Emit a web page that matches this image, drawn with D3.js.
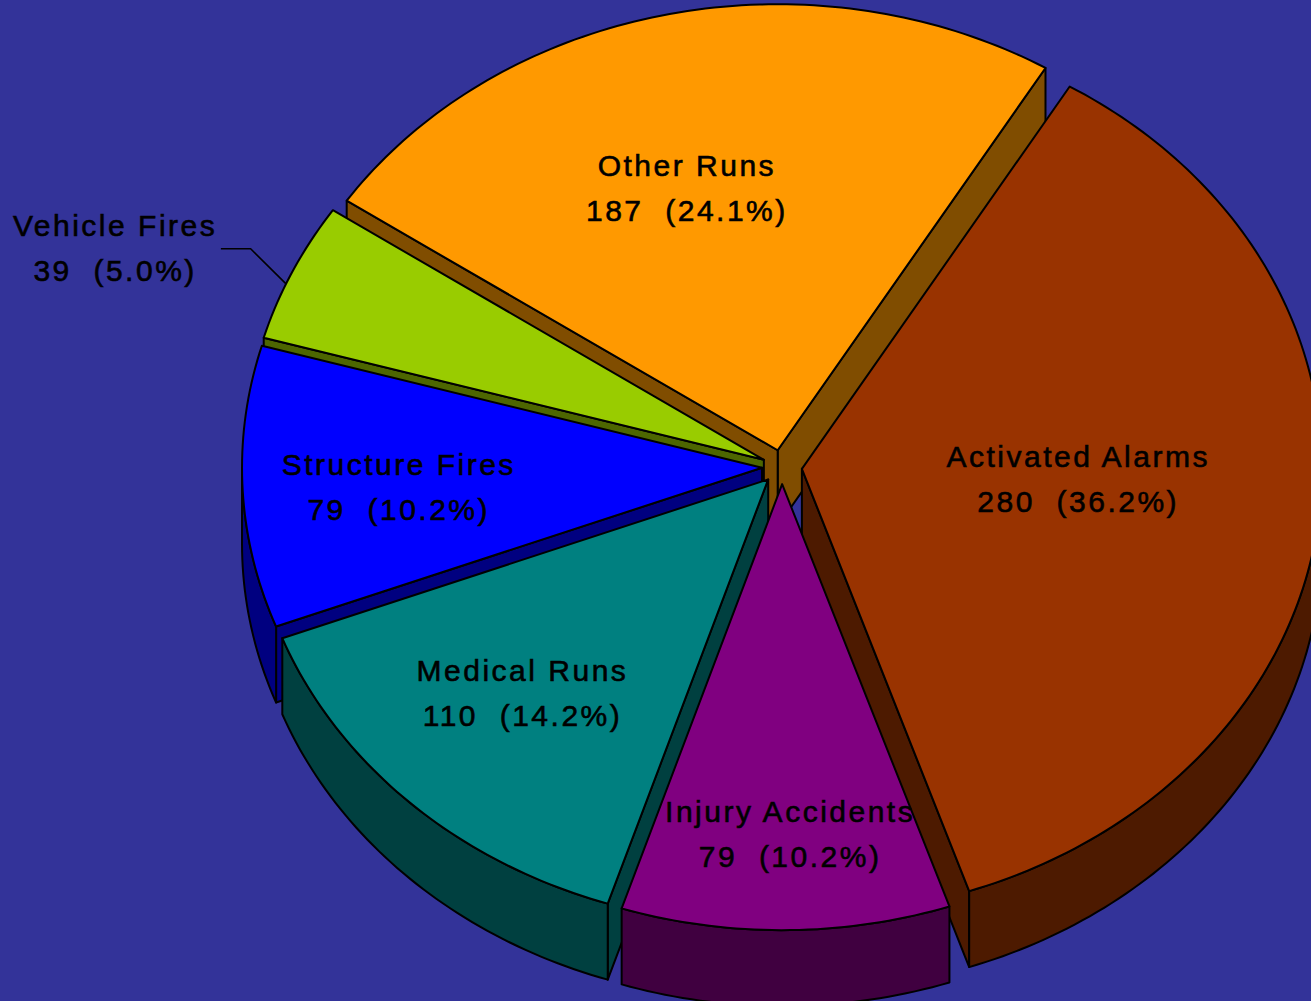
<!DOCTYPE html>
<html><head><meta charset="utf-8">
<script src="https://cdn.jsdelivr.net/npm/d3@7"></script>
<style>html,body{margin:0;padding:0;background:#333399;overflow:hidden}</style>
</head><body>
<svg id="chart" width="1311" height="1001"></svg>
<script>
// ---- data ----
const categories = ["Activated Alarms","Injury Accidents","Medical Runs","Structure Fires","Vehicle Fires","Other Runs"];
const values = [280, 79, 110, 79, 39, 187];
const percentLabels = ["36.2%","10.2%","14.2%","10.2%","5.0%","24.1%"];
const colors = ["#993300","#800080","#008080","#0000FF","#99CC00","#FF9900"];

// ---- layout ----
const W = 1311, H = 1001;
const cx = 782, cy = 467;          // screen centre of the unexploded pie
const rx = 520, ry = 446;          // projected radii of the top face
const depth = 76;                  // projected thickness
const explode = 20;                // explosion distance (px, horizontal units)
const startDeg = 31;
// label anchors relative to each slice centre, in radius units (x: rx, y: ry)
const labelOffsets = [[0.529,0.046],[0.013,0.809],[-0.475,0.502],[-0.701,0.067],[-1.25,-0.451],[-0.177,-0.564]];
const leaderSlices = [4];          // slices with an outside label + leader
const leaderElbow = [-0.987,-0.473];
const fontSize = 30, letterSpacing = 2.5, lineGap = 45;

const svg = d3.select("#chart");
svg.append("rect").attr("width", W).attr("height", H).attr("fill", "#333399");

const sx = d3.scaleLinear().domain([-1, 1]).range([-rx, rx]);
const sy = d3.scaleLinear().domain([-1, 1]).range([ry, -ry]); // +1 = back (up on screen)

const pie = d3.pie().sort(null)
  .startAngle(startDeg * Math.PI / 180)
  .endAngle(startDeg * Math.PI / 180 + 2 * Math.PI);
const arcs = pie(values);

function darker(c) {
  const k = d3.rgb(c);
  return d3.rgb(k.r * 0.5, k.g * 0.5, k.b * 0.5).formatHex();
}

// slice geometry
arcs.forEach((a, i) => {
  a.mid = (a.startAngle + a.endAngle) / 2;
  a.ex = Math.sin(a.mid) * explode / rx;   // explosion in plane units
  a.ey = Math.cos(a.mid) * explode / rx;
  a.ox = cx + sx(a.ex);
  a.oy = cy + sy(a.ey);
  a.color = colors[i];
  a.side = darker(colors[i]);
});

function pt(a, ang, r, z) {
  return [a.ox + sx(r * Math.sin(ang)), a.oy + sy(r * Math.cos(ang)) + z];
}
function arcPts(a, t0, t1, z) {
  const n = Math.max(2, Math.ceil(Math.abs(t1 - t0) / (Math.PI / 180)));
  const out = [];
  for (let k = 0; k <= n; k++) out.push(pt(a, t0 + (t1 - t0) * k / n, 1, z));
  return out;
}
const line = d3.line().curve(d3.curveLinearClosed);

// ---- walls ----
const walls = [];
arcs.forEach((a) => {
  // outer wall: front-facing part of the rim
  [[Math.PI / 2, 3 * Math.PI / 2], [Math.PI / 2 + 2 * Math.PI, 3 * Math.PI / 2 + 2 * Math.PI]].forEach(([lo, hi]) => {
    const t0 = Math.max(a.startAngle, lo), t1 = Math.min(a.endAngle, hi);
    if (t1 > t0) {
      const pts = arcPts(a, t0, t1, 0).concat(arcPts(a, t1, t0, depth));
      const tm = (t0 + t1) / 2;
      walls.push({pts, fill: a.side, key: a.ey + Math.cos(tm)});
    }
  });
  // radial walls
  const s = a.startAngle, e = a.endAngle;
  if (Math.sin(s) < 0) {
    walls.push({pts: [pt(a, s, 0, 0), pt(a, s, 1, 0), pt(a, s, 1, depth), pt(a, s, 0, depth)],
      fill: a.side, key: a.ey + 0.5 * Math.cos(s)});
  }
  if (Math.sin(e) > 0) {
    walls.push({pts: [pt(a, e, 0, 0), pt(a, e, 1, 0), pt(a, e, 1, depth), pt(a, e, 0, depth)],
      fill: a.side, key: a.ey + 0.5 * Math.cos(e)});
  }
});
walls.sort((p, q) => q.key - p.key);

svg.append("g").selectAll("path").data(walls).join("path")
  .attr("d", d => line(d.pts))
  .attr("fill", d => d.fill)
  .attr("stroke", "#000").attr("stroke-width", 2).attr("stroke-linejoin", "round");

// ---- top faces ----
svg.append("g").selectAll("path").data(arcs).join("path")
  .attr("d", a => line([[a.ox, a.oy]].concat(arcPts(a, a.startAngle, a.endAngle, 0))))
  .attr("fill", a => a.color)
  .attr("stroke", "#000").attr("stroke-width", 2).attr("stroke-linejoin", "round");

// ---- leader lines ----
leaderSlices.forEach(i => {
  const a = arcs[i];
  const rim = pt(a, a.mid - 0.03, 1, 0);
  const elbow = [a.ox + sx(leaderElbow[0]), a.oy - sy(0) + sy(-leaderElbow[1])];
  const lx = a.ox + sx(labelOffsets[i][0]);
  const endX = lx + 107;
  svg.append("path")
    .attr("d", d3.line()([rim, elbow, [endX, elbow[1]]]))
    .attr("fill", "none").attr("stroke", "#000").attr("stroke-width", 1.6);
});

// ---- labels ----
const lg = svg.append("g")
  .attr("font-family", "'Liberation Sans', Arial, sans-serif")
  .attr("font-size", fontSize).attr("letter-spacing", letterSpacing)
  .attr("text-anchor", "middle").attr("fill", "#000")
  .attr("stroke", "#000").attr("stroke-width", 0.6);
arcs.forEach((a, i) => {
  const x = a.ox + sx(labelOffsets[i][0]) + letterSpacing / 2;
  const y = a.oy - sy(0) + sy(-labelOffsets[i][1]);
  lg.append("text").attr("x", x).attr("y", y - lineGap / 2).text(categories[i]);
  lg.append("text").attr("x", x).attr("y", y + lineGap / 2)
    .text(values[i] + "\u00a0\u00a0(" + percentLabels[i] + ")");
});
</script>
</body></html>
